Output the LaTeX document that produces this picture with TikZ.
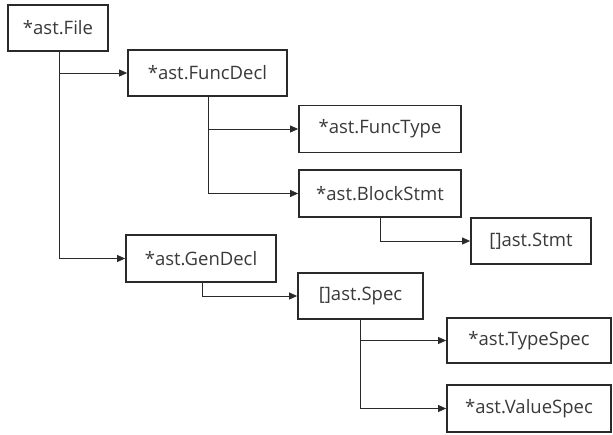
\documentclass[tikz,border=0pt]{standalone}
\usepackage{fontspec}
\setmainfont{Open Sans}
\usetikzlibrary{arrows.meta}
\definecolor{txt}{HTML}{3A3A3A}
\definecolor{edge}{HTML}{2A2A2A}
\tikzset{
  box/.style={draw=edge, line width=1.8pt, fill=white, inner sep=0pt, text=txt,
    font=\fontsize{18.5}{20}\selectfont},
  conn/.style={draw=edge, line width=0.8pt, -{Triangle[length=8pt,width=7pt]}},
  trunk/.style={draw=edge, line width=0.8pt}
}
\begin{document}
\begin{tikzpicture}[x=1pt,y=-1pt]
\useasboundingbox (0,0) rectangle (613,434);
\fill[white] (0,0) rectangle (613,434);
\node[box, minimum width=100pt, minimum height=46pt] (file) at (58,28) {*ast.File};
\node[box, minimum width=159pt, minimum height=46pt] (funcdecl) at (207.5,73) {*ast.FuncDecl};
\node[box, minimum width=162pt, minimum height=47pt] (functype) at (380,129) {*ast.FuncType};
\node[box, minimum width=162pt, minimum height=47pt] (block) at (380,193.5) {*ast.BlockStmt};
\node[box, minimum width=120pt, minimum height=46pt] (stmt) at (531,241) {[]ast.Stmt};
\node[box, minimum width=150pt, minimum height=47pt] (gendecl) at (201,258.5) {*ast.GenDecl};
\node[box, minimum width=125pt, minimum height=46pt] (spec) at (360.5,296) {[]ast.Spec};
\node[box, minimum width=164pt, minimum height=45pt] (typespec) at (529,340.5) {*ast.TypeSpec};
\node[box, minimum width=164pt, minimum height=47pt] (valuespec) at (529,408.5) {*ast.ValueSpec};

\coordinate (t1) at ([xshift=1pt]file.south);
\coordinate (t2) at ([xshift=0.5pt]funcdecl.south);
\coordinate (t3) at (block.south);
\coordinate (t4) at ([xshift=1pt]gendecl.south);
\coordinate (t5) at ([xshift=-0.5pt]spec.south);

\draw[conn] (t1) |- (gendecl.west);
\draw[conn] (t1 |- funcdecl.west) -- (funcdecl.west);
\draw[conn] (t2) |- (block.west);
\draw[conn] (t2 |- functype.west) -- (functype.west);
\draw[conn] (t3) |- (stmt.west);
\draw[conn] (t4) |- (spec.west);
\draw[conn] (t5) |- (valuespec.west);
\draw[conn] (t5 |- typespec.west) -- (typespec.west);
\end{tikzpicture}
\end{document}
